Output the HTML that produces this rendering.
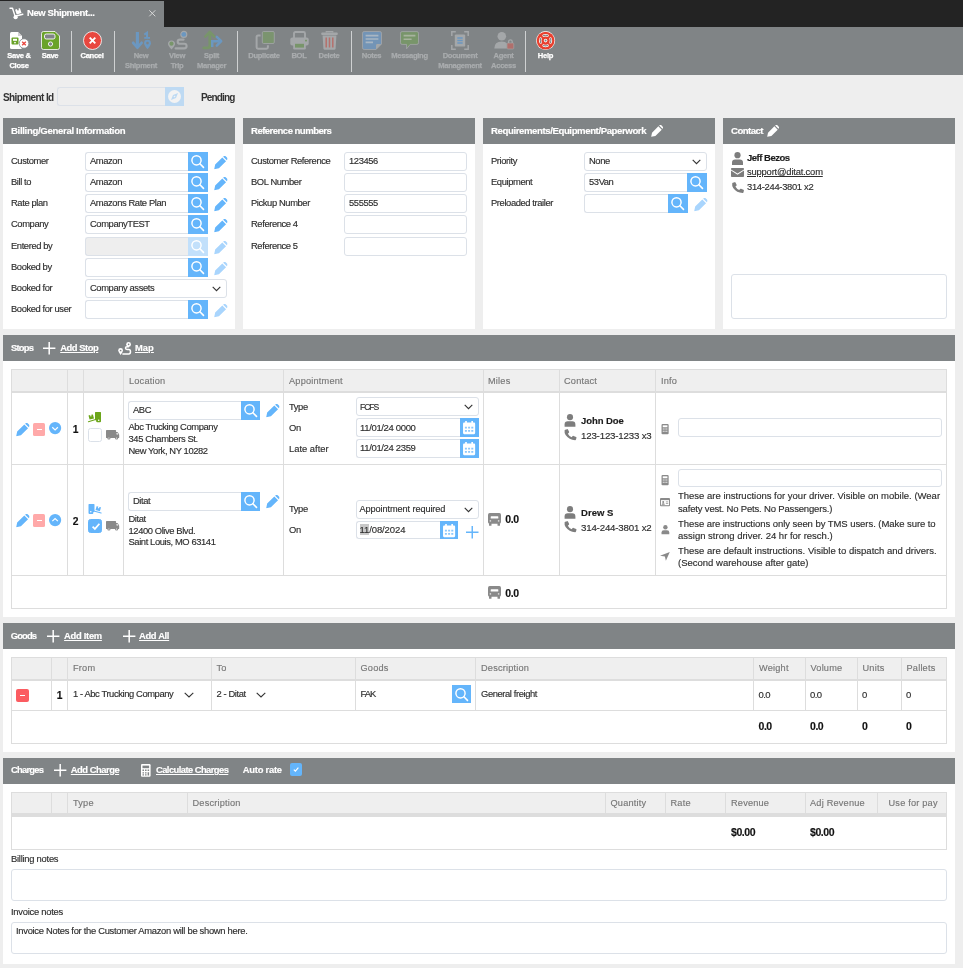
<!DOCTYPE html>
<html lang="en">
<head>
<meta charset="utf-8">
<title>New Shipment</title>
<style>
*{box-sizing:border-box;margin:0;padding:0}
html,body{width:963px;height:968px;overflow:hidden}
body{background:#eee;font-family:"Liberation Sans",sans-serif;font-size:9.4px;letter-spacing:-.4px;color:#2e2e2e;position:relative;-webkit-text-stroke:.15px}
.abs{position:absolute}
svg{display:block;position:absolute;overflow:visible}
/* tab bar */
#tabbar{position:absolute;left:0;top:0;width:963px;height:27px;background:#232323}
#tab{position:absolute;left:0;top:1px;width:164px;height:27px;background:#808486;color:#fff;font-weight:700;font-size:9.5px;letter-spacing:-.4px}
#tab span{position:absolute;left:27px;top:5.5px;white-space:nowrap}
#tab .x{left:147.5px;top:3.5px;font-weight:400;font-size:14px;color:#e4e4e4}
/* toolbar */
#toolbar{position:absolute;left:0;top:27px;width:963px;height:48px;background:#808486}
.tb{position:absolute;top:0;height:48px;color:#fff;font-weight:700;font-size:7.6px;letter-spacing:-.3px;text-align:center;line-height:10px;white-space:nowrap}
.tb b{position:absolute;left:50%;top:24px;transform:translateX(-50%);font-weight:700;-webkit-text-stroke:.25px currentColor}
.tb.dis{color:#a9acae}
.sep{position:absolute;top:4px;width:1px;height:41px;background:#cfd1d2}
/* panels */
.panel{position:absolute;background:#fff}
.ph{position:absolute;left:0;top:0;right:0;height:26px;background:#808486;color:#fff;font-weight:700;font-size:9.6px;letter-spacing:-.55px;line-height:26px;padding-left:8px;white-space:nowrap}
.lbl{position:absolute;white-space:nowrap;line-height:12px}
.inp{position:absolute;height:19px;border:1px solid #dce1e8;border-radius:3px;background:#fff;line-height:16px;padding-left:4px;white-space:nowrap;overflow:hidden}
.inp.l{border-radius:3px 0 0 3px;border-right:0}
.inp.dis{background:#eee}
.sb{position:absolute;width:20px;height:19px;background:#64b5fb}
.sb.dis{background:#c2e0fb}
.hdrlink{text-decoration:underline}
table{border-collapse:collapse}

.t{position:absolute;line-height:12px;white-space:nowrap}
.b{font-weight:700;color:#1c1c1c}
.u{text-decoration:underline}
.hl{position:absolute;height:1px;background:#ddd}
.vl{position:absolute;width:1px;background:#ddd}
.th{position:absolute;background:#efefef}
.thd{color:#777;font-size:9.2px;letter-spacing:.2px;margin-top:.6px}
.sel{position:absolute;height:19px;border:1px solid #dce1e8;border-radius:3px;background:#fff;line-height:16px;padding-left:4px;white-space:nowrap;overflow:hidden}
.ta{position:absolute;border:1px solid #dce1e8;border-radius:3px;background:#fff}
.cb{position:absolute;width:14px;height:14px;border:1px solid #dbe1e9;border-radius:2.5px;background:#fff}
.cb.on{background:#64b5fb;border-color:#64b5fb}
.sh{position:absolute;left:3px;width:952px;height:26px;background:#808486;color:#fff;font-weight:700;font-size:9.4px;letter-spacing:-.33px}
.sh .t{line-height:26px;top:0}
#stopsh .t{line-height:25px}
#chargesh .t{line-height:24px}
</style>
</head>
<body>
<svg width="0" height="0" style="position:absolute">
<defs>
<symbol id="mag" viewBox="0 0 20 19"><circle cx="8.5" cy="8.3" r="4.6" fill="none" stroke="#fff" stroke-width="1.45"/><path d="M11.9 11.7 15.5 15.4" stroke="#fff" stroke-width="1.6" stroke-linecap="round"/></symbol>
<symbol id="pen" viewBox="0 0 14 14"><path d="M0.2 13.8 1.2 8.9 8.6 1.5 12.5 5.4 5.1 12.8Z M9.5 .7 10.3 .1Q11.2 -.5 12.1 .3L13.7 1.9Q14.5 2.8 13.9 3.7L13.3 4.5Z"/></symbol>
</defs>
</svg>

<div id="tabbar"></div>
<div id="tab"><svg style="left:0;top:-1px" width="27" height="27" viewBox="0 0 27 27"><path d="M10 8.2H12.5L14.9 15.6" fill="none" stroke="#fff" stroke-width="1.4" stroke-linecap="round" stroke-linejoin="round"/><circle cx="15.6" cy="17.2" r="2.1" fill="#fff"/><path d="M16 16 22.8 14.3" stroke="#fff" stroke-width="1.5" stroke-linecap="round"/><path d="M15.1 9.7 16.9 9.1 17.5 10.6 18.9 10.2 18.5 8.6 20 8.2 21.5 12.9 16.7 14.4Z" fill="#fff"/></svg><span>New Shipment...</span><svg style="left:148.6px;top:8.8px" width="6.6" height="6.6" viewBox="0 0 6.6 6.6"><path d="M.3 .3 6.3 6.3M6.3 .3 .3 6.3" stroke="#dadada" stroke-width=".95"/></svg></div>
<div id="toolbar">
<div class="tb" style="left:0;width:38px"><svg style="left:9px;top:4px" width="21" height="20" viewBox="0 0 21 20"><path d="M1 2.5Q1 1 2.5 1H9L13 5V16.5Q13 18 11.5 18H2.5Q1 18 1 16.5Z" fill="#fff"/><path d="M9 1V5H13Z" fill="#d0d0d0"/><rect x="2.5" y="6.5" width="7" height="7" rx="1" fill="#6aa329"/><rect x="4" y="7.8" width="4" height="2" fill="#fff"/><circle cx="6" cy="11.6" r=".9" fill="#fff"/><circle cx="15" cy="12.5" r="4.8" fill="#fff" stroke="#808486" stroke-width=".8"/><path d="M13.2 10.7 16.8 14.3M16.8 10.7 13.2 14.3" stroke="#e8473f" stroke-width="1.3"/></svg><b>Save &amp;<br>Close</b></div>
<div class="tb" style="left:31px;width:38px"><svg style="left:10px;top:4px" width="19" height="19" viewBox="0 0 19 19"><path d="M.5 2.5Q.5 .5 2.5 .5H14L18.5 5V16.5Q18.5 18.5 16.5 18.5H2.5Q.5 18.5 .5 16.5Z" fill="#6aa329" stroke="#fff" stroke-width=".8"/><rect x="3.5" y="3" width="10.5" height="5" rx="1.8" fill="#808486" stroke="#fff" stroke-width=".9"/><circle cx="9.5" cy="13" r="2.1" fill="#808486" stroke="#fff" stroke-width=".9"/></svg><b>Save</b></div>
<div class="sep" style="left:71px"></div>
<div class="tb" style="left:73px;width:38px"><svg style="left:10px;top:4px" width="19" height="19" viewBox="0 0 19 19"><circle cx="9.5" cy="9.5" r="9" fill="#e8473f" stroke="#fff" stroke-width=".8"/><path d="M6.7 6.7 12.3 12.3M12.3 6.7 6.7 12.3" stroke="#fff" stroke-width="1.9"/></svg><b>Cancel</b></div>
<div class="sep" style="left:114px"></div>
<div class="tb dis" style="left:121px;width:40px"><svg style="left:11px;top:4px" width="20" height="19" viewBox="0 0 20 19"><path d="M5.4 1V15" fill="none" stroke="#6b97c0" stroke-width="3.1"/><path d="M1.2 11.8 5.4 16.7 9.6 11.8" fill="none" stroke="#6b97c0" stroke-width="2.7" stroke-linejoin="round" stroke-linecap="round"/><path d="M12.3 3.6 15 1.7V6.6" fill="none" stroke="#6b97c0" stroke-width="2"/><path d="M12.2 6.9H18" stroke="#6b97c0" stroke-width="1.8"/><path d="M15.5 18.3Q12.1 14.2 12.1 12.2A3.4 3.4 0 0 1 18.9 12.2Q18.9 14.2 15.5 18.3Z" fill="#6b97c0"/><circle cx="15.5" cy="12.1" r="1.3" fill="#808486"/></svg><b>New<br>Shipment</b></div>
<div class="tb dis" style="left:157px;width:40px"><svg style="left:11px;top:4px" width="20" height="19" viewBox="0 0 20 19"><circle cx="15.8" cy="3.4" r="3" fill="#6b97c0" stroke="#a4a7a9" stroke-width="1.1"/><path d="M3.5 18.4Q0 14.4 0 12.9A3.5 3.5 0 0 1 7 12.9Q7 14.4 3.5 18.4Z" fill="#a4a7a9"/><circle cx="3.5" cy="12.7" r="2.1" fill="#78956a"/><path d="M7.6 17.4H16.2Q18.6 17.4 18.6 15.1Q18.6 12.8 16.2 12.8H12Q9.7 12.8 9.7 10.7Q9.7 8.6 12 8.6H15.6" fill="none" stroke="#a4a7a9" stroke-width="2.1" stroke-linecap="round"/></svg><b>View<br>Trip</b></div>
<div class="tb dis" style="left:191px;width:41px"><svg style="left:11.5px;top:4px" width="20" height="19" viewBox="0 0 20 19"><path d="M.8 16.9H4.4Q6.8 16.9 6.8 14.5V2.5" fill="none" stroke="#78956a" stroke-width="2.8" stroke-linecap="round"/><path d="M2.3 5.6 6.8 1 11.3 5.6" fill="none" stroke="#78956a" stroke-width="2.6" stroke-linejoin="round" stroke-linecap="round"/><path d="M9.2 16V10.2H16.5" fill="none" stroke="#6b97c0" stroke-width="2.5"/><path d="M13.8 5.8 18.2 10.2 13.8 14.6" fill="none" stroke="#6b97c0" stroke-width="2.5" stroke-linejoin="round" stroke-linecap="round"/></svg><b>Split<br>Manager</b></div>
<div class="sep" style="left:237px"></div>
<div class="tb dis" style="left:244px;width:40px"><svg style="left:10.5px;top:4px" width="20" height="19" viewBox="0 0 20 19"><rect x="7.3" y=".5" width="12" height="12" rx="1.3" fill="#7b946f" stroke="#a4a7a9" stroke-width=".8"/><path d="M5.6 4.5H3Q1.6 4.5 1.6 5.9V16.3Q1.6 17.7 3 17.7H11.5Q12.9 17.7 12.9 16.3V14.2" fill="none" stroke="#a4a7a9" stroke-width="2"/></svg><b>Duplicate</b></div>
<div class="tb dis" style="left:279px;width:40px"><svg style="left:11px;top:4px" width="19" height="19" viewBox="0 0 19 19"><path d="M4 7V2.4Q4 1 5.4 1H13.6Q15 1 15 2.4V7" fill="none" stroke="#a4a7a9" stroke-width="1.9"/><rect x=".3" y="6.6" width="18.4" height="8" rx="2" fill="#a4a7a9"/><rect x="15" y="8.8" width="2" height="1.6" fill="#78956a"/><rect x="3.2" y="12" width="12.6" height="6.4" rx="1.2" fill="#a4a7a9"/><rect x="5" y="12.8" width="9" height="3.8" fill="#78956a"/></svg><b>BOL</b></div>
<div class="tb dis" style="left:309px;width:40px"><svg style="left:11.5px;top:4px" width="17" height="19" viewBox="0 0 17 19"><path d="M5.3 1.6V.6H11.7V1.6" fill="none" stroke="#a4a7a9" stroke-width="1.3"/><rect x=".2" y="1.6" width="16.6" height="2.4" rx=".9" fill="#a4a7a9"/><path d="M1.6 4.6H15.4L14.6 17.4Q14.5 18.7 13.2 18.7H3.8Q2.5 18.7 2.4 17.4Z" fill="#a4a7a9"/><path d="M5.2 6.6V16.4M8.5 6.6V16.4M11.8 6.6V16.4" stroke="#b5706c" stroke-width="1.5"/></svg><b>Delete</b></div>
<div class="sep" style="left:351px"></div>
<div class="tb dis" style="left:351px;width:41px"><svg style="left:10.5px;top:4px" width="20" height="19" viewBox="0 0 20 19"><path d="M.5 2.2Q.5 .5 2.2 .5H17.8Q19.5 .5 19.5 2.2V13L14 18.5H2.2Q.5 18.5 .5 16.8Z" fill="#7394b6" stroke="#a4a7a9" stroke-width=".8"/><path d="M19.5 13H15.4Q14 13 14 14.4V18.5Z" fill="#a4a7a9"/><path d="M3.6 4.6H16.4M3.6 8H16.4M3.6 11.4H11" stroke="#a9b6c3" stroke-width="1.6"/></svg><b>Notes</b></div>
<div class="tb dis" style="left:389px;width:41px"><svg style="left:11px;top:4px" width="19" height="19" viewBox="0 0 19 19"><path d="M.5 2.2Q.5 .6 2.1 .6H16.9Q18.5 .6 18.5 2.2V11.8Q18.5 13.4 16.9 13.4H10.2L6.6 17.8V13.4H2.1Q.5 13.4 .5 11.8Z" fill="#78956a" stroke="#a4a7a9" stroke-width=".8"/><path d="M3.6 4.6H15.4M3.6 8.2H11.6" stroke="#a7b39e" stroke-width="1.6"/></svg><b>Messaging</b></div>
<div class="tb dis" style="left:430px;width:60px"><svg style="left:21px;top:4px" width="18" height="19" viewBox="0 0 18 19"><path d="M.8 5V.8H4.8M13.2 .8H17.2V5M17.2 14V18.2H13.2M4.8 18.2H.8V14" fill="none" stroke="#a4a7a9" stroke-width="1.5"/><rect x="3.8" y="3.4" width="10.4" height="12.2" rx="1.2" fill="#a4a7a9"/><path d="M6.3 7H11.7M6.3 9.5H11.7M6.3 12H11.7" stroke="#6b97c0" stroke-width="1.4"/></svg><b>Document<br>Management</b></div>
<div class="tb dis" style="left:483px;width:41px"><svg style="left:10.5px;top:4px" width="20" height="19" viewBox="0 0 20 19"><circle cx="7.8" cy="5.2" r="4.3" fill="#a4a7a9"/><path d="M.3 17.6Q.3 10.6 7.8 10.6Q11.4 10.6 12.8 12.2V17.6Z" fill="#a4a7a9"/><rect x="13" y="12" width="6.8" height="6" rx=".9" fill="#b06f6c" stroke="#a4a7a9" stroke-width=".6"/><path d="M14.6 12V10.6A1.8 1.8 0 0 1 18.2 10.6V12" fill="none" stroke="#a4a7a9" stroke-width="1.3"/></svg><b>Agent<br>Access</b></div>
<div class="sep" style="left:525px"></div>
<div class="tb" style="left:525px;width:41px"><svg style="left:11px;top:3.8px" width="19.2" height="19.2" viewBox="-9.6 -9.6 19.2 19.2"><circle r="9.5" fill="#fff"/><circle r="8.9" fill="#e8402f"/><path d="M-2 -4.96A5.35 5.35 0 0 1 2 -4.96" transform="rotate(0)" stroke="#fff" stroke-width="2.4" stroke-linecap="round" fill="none"/><path d="M-2 -4.96A5.35 5.35 0 0 1 2 -4.96" transform="rotate(90)" stroke="#fff" stroke-width="2.4" stroke-linecap="round" fill="none"/><path d="M-2 -4.96A5.35 5.35 0 0 1 2 -4.96" transform="rotate(180)" stroke="#fff" stroke-width="2.4" stroke-linecap="round" fill="none"/><path d="M-2 -4.96A5.35 5.35 0 0 1 2 -4.96" transform="rotate(270)" stroke="#fff" stroke-width="2.4" stroke-linecap="round" fill="none"/><path d="M-2 -4.96A5.35 5.35 0 0 1 2 -4.96" transform="rotate(0)" stroke="#808486" stroke-width="1.2" stroke-linecap="round" fill="none"/><path d="M-2 -4.96A5.35 5.35 0 0 1 2 -4.96" transform="rotate(90)" stroke="#808486" stroke-width="1.2" stroke-linecap="round" fill="none"/><path d="M-2 -4.96A5.35 5.35 0 0 1 2 -4.96" transform="rotate(180)" stroke="#808486" stroke-width="1.2" stroke-linecap="round" fill="none"/><path d="M-2 -4.96A5.35 5.35 0 0 1 2 -4.96" transform="rotate(270)" stroke="#808486" stroke-width="1.2" stroke-linecap="round" fill="none"/><circle r="1.8" fill="#fff"/><circle r="1" fill="#808486"/></svg><b>Help</b></div>
</div>

<div class="t b" style="left:3px;top:92px;font-size:10px;letter-spacing:-.6px;-webkit-text-stroke:0;color:#333">Shipment Id</div>
<div class="inp l dis" style="left:57px;top:87px;width:108px;height:19px;background:#eee"></div>
<div class="sb dis" style="left:165px;top:87px;width:19px;background:#bedaf3"><svg style="left:3px;top:3px" width="13" height="13" viewBox="0 0 13 13"><circle cx="6.5" cy="6.5" r="6.5" fill="#f3f3f3"/><path d="M10 3 8 8 3 10 5 5Z" fill="#bedaf3"/><circle cx="6.5" cy="6.5" r=".8" fill="#f3f3f3"/></svg></div>
<div class="t b" style="left:201px;top:92px;font-size:10px;letter-spacing:-.85px;-webkit-text-stroke:0;color:#333">Pending</div>
<div class="panel" style="left:3px;top:118px;width:232px;height:211px"><div class="ph" style="letter-spacing:-.33px">Billing/General Information</div></div>
<div class="t" style="left:11px;top:155px">Customer</div>
<div class="inp l" style="left:85px;top:152px;width:103px">Amazon</div>
<div class="sb " style="left:188px;top:152px"><svg width="20" height="19"><use href="#mag"/></svg></div>
<svg style="left:214px;top:155.5px" width="13.5" height="13.5" fill="#64b5fb"><use href="#pen"/></svg>
<div class="t" style="left:11px;top:176px">Bill to</div>
<div class="inp l" style="left:85px;top:173px;width:103px">Amazon</div>
<div class="sb " style="left:188px;top:173px"><svg width="20" height="19"><use href="#mag"/></svg></div>
<svg style="left:214px;top:176.5px" width="13.5" height="13.5" fill="#64b5fb"><use href="#pen"/></svg>
<div class="t" style="left:11px;top:197px">Rate plan</div>
<div class="inp l" style="left:85px;top:194px;width:103px">Amazons Rate Plan</div>
<div class="sb " style="left:188px;top:194px"><svg width="20" height="19"><use href="#mag"/></svg></div>
<svg style="left:214px;top:197.5px" width="13.5" height="13.5" fill="#64b5fb"><use href="#pen"/></svg>
<div class="t" style="left:11px;top:218px">Company</div>
<div class="inp l" style="left:85px;top:215px;width:103px">CompanyTEST</div>
<div class="sb " style="left:188px;top:215px"><svg width="20" height="19"><use href="#mag"/></svg></div>
<svg style="left:214px;top:218.5px" width="13.5" height="13.5" fill="#64b5fb"><use href="#pen"/></svg>
<div class="t" style="left:11px;top:240px">Entered by</div>
<div class="inp l dis" style="left:85px;top:237px;width:103px"></div>
<div class="sb dis" style="left:188px;top:237px"><svg width="20" height="19"><use href="#mag"/></svg></div>
<svg style="left:214px;top:240.5px" width="13.5" height="13.5" fill="#a9d5fd"><use href="#pen"/></svg>
<div class="t" style="left:11px;top:261px">Booked by</div>
<div class="inp l" style="left:85px;top:258px;width:103px"></div>
<div class="sb " style="left:188px;top:258px"><svg width="20" height="19"><use href="#mag"/></svg></div>
<svg style="left:214px;top:261.5px" width="13.5" height="13.5" fill="#a9d5fd"><use href="#pen"/></svg>
<div class="t" style="left:11px;top:282px">Booked for</div>
<div class="sel" style="left:85px;top:279px;width:142px">Company assets<svg style="right:5px;top:6px" width="9" height="6" viewBox="0 0 9 6"><path d="M.7 .8 4.5 4.6 8.3 .8" fill="none" stroke="#333" stroke-width="1.1"/></svg></div>
<div class="t" style="left:11px;top:303px">Booked for user</div>
<div class="inp l" style="left:85px;top:300px;width:103px"></div>
<div class="sb " style="left:188px;top:300px"><svg width="20" height="19"><use href="#mag"/></svg></div>
<svg style="left:214px;top:303.5px" width="13.5" height="13.5" fill="#a9d5fd"><use href="#pen"/></svg>
<div class="panel" style="left:243px;top:118px;width:232px;height:211px"><div class="ph">Reference numbers</div></div>
<div class="t" style="left:251px;top:155px">Customer Reference</div>
<div class="inp" style="left:344px;top:152px;width:123px">123456</div>
<div class="t" style="left:251px;top:176px">BOL Number</div>
<div class="inp" style="left:344px;top:173px;width:123px"></div>
<div class="t" style="left:251px;top:197px">Pickup Number</div>
<div class="inp" style="left:344px;top:194px;width:123px">555555</div>
<div class="t" style="left:251px;top:218px">Reference 4</div>
<div class="inp" style="left:344px;top:215px;width:123px"></div>
<div class="t" style="left:251px;top:240px">Reference 5</div>
<div class="inp" style="left:344px;top:237px;width:123px"></div>
<div class="panel" style="left:483px;top:118px;width:232px;height:211px"><div class="ph" style="letter-spacing:-.4px">Requirements/Equipment/Paperwork</div></div>
<svg style="left:650.5px;top:124.5px" width="12" height="12" fill="#fff"><use href="#pen"/></svg>
<div class="t" style="left:491px;top:155px">Priority</div>
<div class="sel" style="left:584px;top:152px;width:123px">None<svg style="right:5px;top:6px" width="9" height="6" viewBox="0 0 9 6"><path d="M.7 .8 4.5 4.6 8.3 .8" fill="none" stroke="#333" stroke-width="1.1"/></svg></div>
<div class="t" style="left:491px;top:176px">Equipment</div>
<div class="inp l" style="left:584px;top:173px;width:103px">53Van</div>
<div class="sb " style="left:687px;top:173px"><svg width="20" height="19"><use href="#mag"/></svg></div>
<div class="t" style="left:491px;top:197px">Preloaded trailer</div>
<div class="inp l" style="left:584px;top:194px;width:84px"></div>
<div class="sb " style="left:668px;top:194px"><svg width="20" height="19"><use href="#mag"/></svg></div>
<svg style="left:694px;top:197.5px" width="13.5" height="13.5" fill="#a9d5fd"><use href="#pen"/></svg>
<div class="panel" style="left:723px;top:118px;width:232px;height:211px"><div class="ph">Contact</div></div>
<svg style="left:767px;top:124.5px" width="12" height="12" fill="#fff"><use href="#pen"/></svg>
<svg style="left:732px;top:152px" width="11" height="13" viewBox="0 0 11 13" fill="#7d7d7d"><circle cx="5.5" cy="3.2" r="3.1"/><path d="M0 13V10.6Q0 7.4 3.2 7.4H7.8Q11 7.4 11 10.6V13Z"/></svg>
<div class="t b" style="left:747px;top:152px;font-size:9.5px;letter-spacing:-.5px">Jeff Bezos</div>
<svg style="left:731px;top:168px" width="13" height="9" viewBox="0 0 13 9" fill="#7d7d7d"><path d="M0 .8Q0 0 .8 0H12.2Q13 0 13 .8V1.4L6.5 5.6 0 1.4Z"/><path d="M0 2.6 6.5 6.8 13 2.6V8.2Q13 9 12.2 9H.8Q0 9 0 8.2Z"/></svg>
<div class="t u" style="left:747px;top:166px;letter-spacing:-.18px">support@ditat.com</div>
<svg style="left:731.5px;top:181.5px" width="12" height="11" viewBox="0 0 12 11" fill="#7d7d7d"><path d="M2.6 .2Q3.2 -.1 3.5 .5L4.6 2.8Q4.8 3.3 4.4 3.7L3.4 4.6Q4.6 7 7.2 8L8.1 7Q8.5 6.6 9 6.8L11.5 7.8Q12.1 8.1 11.9 8.7L11.4 10.4Q11.2 11 10.6 11Q4.6 10.8 1.2 6Q-.2 3.6 .2 1.4Q.3 .9 .8 .7Z"/></svg>
<div class="t" style="left:747px;top:181px;letter-spacing:-.3px">314-244-3801 x2</div>
<div class="ta" style="left:731px;top:274px;width:216px;height:45px"></div>
<div class="panel" style="left:3px;top:335px;width:952px;height:282px"></div>
<div class="sh" style="top:335px;line-height:25px" id="stopsh"><div class="t" style="left:8px;letter-spacing:-.76px">Stops</div><div class="t u" style="left:57.2px;letter-spacing:-.45px">Add Stop</div><div class="t u" style="left:132px;letter-spacing:.05px">Map</div><svg style="left:40.2px;top:6.8px" width="12.4" height="12.4" viewBox="0 0 12 12"><path d="M6 0V12M0 6H12" stroke="#fff" stroke-width="1.45"/></svg><svg style="left:114.8px;top:7.2px" width="13.2" height="13" viewBox="0 0 13.2 13"><circle cx="10.6" cy="2.4" r="2.4" fill="#fff"/><circle cx="10.6" cy="2.4" r=".8" fill="#808486"/><path d="M2.6 12.9Q.2 10 .2 8.5A2.4 2.4 0 0 1 5 8.5Q5 10 2.6 12.9Z" fill="#fff"/><circle cx="2.6" cy="8.5" r=".85" fill="#808486"/><path d="M10.6 4.8H9Q7.5 4.8 7.5 6.1Q7.5 7.5 9 7.5H10.8Q12.5 7.5 12.5 9.7Q12.5 11.9 10.8 11.9H4.9" fill="none" stroke="#fff" stroke-width="1.5" stroke-linecap="round"/></svg></div>
<div class="th" style="left:11px;top:369px;width:936px;height:23px"></div>
<div class="hl" style="left:11px;top:369px;width:936px"></div>
<div class="hl" style="left:11px;top:391px;width:936px;height:2px"></div>
<div class="hl" style="left:11px;top:464px;width:936px"></div>
<div class="hl" style="left:11px;top:575px;width:936px"></div>
<div class="hl" style="left:11px;top:608px;width:936px"></div>
<div class="vl" style="left:11px;top:369px;height:240px"></div>
<div class="vl" style="left:946px;top:369px;height:240px"></div>
<div class="vl" style="left:67px;top:369px;height:206px"></div>
<div class="vl" style="left:83px;top:369px;height:206px"></div>
<div class="vl" style="left:123px;top:369px;height:206px"></div>
<div class="vl" style="left:283px;top:369px;height:206px"></div>
<div class="vl" style="left:483px;top:369px;height:206px"></div>
<div class="vl" style="left:559px;top:369px;height:206px"></div>
<div class="vl" style="left:655px;top:369px;height:206px"></div>
<div class="t thd" style="left:129px;top:374px">Location</div>
<div class="t thd" style="left:289px;top:374px">Appointment</div>
<div class="t thd" style="left:488px;top:374px">Miles</div>
<div class="t thd" style="left:564px;top:374px">Contact</div>
<div class="t thd" style="left:661px;top:374px">Info</div>
<svg style="left:16px;top:423px" width="13.5" height="13.5" fill="#64b5fb"><use href="#pen"/></svg>
<div class="abs" style="left:33px;top:423px;width:12px;height:13px;background:#ffa9a9;border-radius:1.5px"><div class="abs" style="left:3.5px;top:6px;width:5px;height:1.3px;background:#fff"></div></div>
<svg style="left:48.9px;top:422.4px" width="12.2" height="12.2" viewBox="0 0 12.5 12.5"><circle cx="6.25" cy="6.25" r="6.25" fill="#64b5fb"/><path d="M3.4 5.4 6.25 8.1 9.1 5.4" fill="none" stroke="#fff" stroke-width="1.2"/></svg>
<div class="t b" style="left:72.8px;top:423.6px;font-size:10.3px;color:#111">1</div>
<svg style="left:88px;top:412px" width="13.5" height="10.5" viewBox="0 0 13.5 10.5" fill="#6ba51a"><path d="M7 .6Q7 0 7.6 0H12.4Q13 0 13 .6V9.2Q13 10.2 12 10.2H9.2Q8.2 10.2 8.2 9.2V8.4L7 8Z"/><circle cx="10.7" cy="8.2" r=".8" fill="#fff"/><path d="M.4 9.7 7.6 7.5" stroke="#6ba51a" stroke-width="1.1" stroke-linecap="round"/><path d="M.5 3.5 2.1 3.1 2.5 4.6 3.6 4.3 3.2 2.8 4.9 2.4 6 6.4 1.6 7.6Z"/></svg>
<div class="cb" style="left:88px;top:428px"></div>
<svg style="left:106px;top:430px" width="13.2" height="9.6" viewBox="0 0 13.2 9.6" fill="#8a8a8a"><path d="M0 .7Q0 0 .7 0H9.4Q10.1 0 10.1 .7V2H11.2Q11.7 2 12 2.4L13 4.2Q13.2 4.6 13.2 5V7.4Q13.2 8 12.6 8H.6Q0 8 0 7.4Z"/><circle cx="2.9" cy="8" r="1.6"/><circle cx="2.9" cy="8" r=".6" fill="#fff"/><circle cx="10.6" cy="8" r="1.6"/><circle cx="10.6" cy="8" r=".6" fill="#fff"/><path d="M10.6 2.9H11.4L12.3 4.6H10.6Z" fill="#fff"/></svg>
<div class="inp l" style="left:128px;top:401px;width:113px">ABC</div>
<div class="sb " style="left:241px;top:401px;width:19px"><svg width="20" height="19"><use href="#mag"/></svg></div>
<svg style="left:266px;top:404px" width="13.5" height="13.5" fill="#64b5fb"><use href="#pen"/></svg>
<div class="t" style="left:128.5px;top:421px">Abc Trucking Company</div>
<div class="t" style="left:128.5px;top:433px">345 Chambers St.</div>
<div class="t" style="left:128.5px;top:445px">New York, NY 10282</div>
<div class="t" style="left:289px;top:401px">Type</div>
<div class="t" style="left:289px;top:422px">On</div>
<div class="t" style="left:289px;top:443px;letter-spacing:0">Late after</div>
<div class="sel" style="left:356px;top:397px;width:123px;height:19px;line-height:16px;padding-left:3px;font-size:8.6px;letter-spacing:-1.1px;line-height:18px">FCFS<svg style="right:5px;top:6px" width="9" height="6" viewBox="0 0 9 6"><path d="M.7 .8 4.5 4.6 8.3 .8" fill="none" stroke="#333" stroke-width="1.1"/></svg></div>
<div class="inp l" style="left:356px;top:418px;width:104px;height:19px;line-height:17px;padding-left:3px;font-size:9.5px;letter-spacing:-.35px">11/01/24 0000</div>
<div class="sb" style="left:460px;top:418px;width:19px;height:19px"><svg style="left:3.4px;top:2.6px" width="12.2" height="13.2" viewBox="0 0 11 12"><path d="M0 2.4Q0 1.4 1 1.4H10Q11 1.4 11 2.4V11Q11 12 10 12H1Q0 12 0 11Z" fill="#fff"/><path d="M2.7 0V2.4M8.3 0V2.4" stroke="#fff" stroke-width="1.5"/><path d="M1.7 5.3H3.5V6.9H1.7ZM4.6 5.3H6.4V6.9H4.6ZM7.5 5.3H9.3V6.9H7.5ZM1.7 8.2H3.5V9.8H1.7ZM4.6 8.2H6.4V9.8H4.6ZM7.5 8.2H9.3V9.8H7.5Z" fill="#8cc8fc"/></svg></div>
<div class="inp l" style="left:356px;top:439px;width:104px;height:19px;line-height:16px;padding-left:3px;font-size:9.5px;letter-spacing:-.35px">11/01/24 2359</div>
<div class="sb" style="left:460px;top:439px;width:19px;height:19px"><svg style="left:3.4px;top:2.6px" width="12.2" height="13.2" viewBox="0 0 11 12"><path d="M0 2.4Q0 1.4 1 1.4H10Q11 1.4 11 2.4V11Q11 12 10 12H1Q0 12 0 11Z" fill="#fff"/><path d="M2.7 0V2.4M8.3 0V2.4" stroke="#fff" stroke-width="1.5"/><path d="M1.7 5.3H3.5V6.9H1.7ZM4.6 5.3H6.4V6.9H4.6ZM7.5 5.3H9.3V6.9H7.5ZM1.7 8.2H3.5V9.8H1.7ZM4.6 8.2H6.4V9.8H4.6ZM7.5 8.2H9.3V9.8H7.5Z" fill="#8cc8fc"/></svg></div>
<svg style="left:564.4px;top:414px" width="12" height="12.8" viewBox="0 0 11 13" fill="#7d7d7d"><circle cx="5.5" cy="3.2" r="3.1"/><path d="M0 13V10.6Q0 7.4 3.2 7.4H7.8Q11 7.4 11 10.6V13Z"/></svg>
<div class="t b" style="left:581px;top:415px;font-size:9.5px;letter-spacing:-.08px">John Doe</div>
<svg style="left:564px;top:429.4px" width="13" height="11.2" viewBox="0 0 12 11" fill="#7d7d7d"><path d="M2.6 .2Q3.2 -.1 3.5 .5L4.6 2.8Q4.8 3.3 4.4 3.7L3.4 4.6Q4.6 7 7.2 8L8.1 7Q8.5 6.6 9 6.8L11.5 7.8Q12.1 8.1 11.9 8.7L11.4 10.4Q11.2 11 10.6 11Q4.6 10.8 1.2 6Q-.2 3.6 .2 1.4Q.3 .9 .8 .7Z"/></svg>
<div class="t" style="left:581px;top:430px;font-size:9.7px;letter-spacing:-.18px">123-123-1233 x3</div>
<svg style="left:660.7px;top:423.9px" width="8.2" height="10.2" viewBox="0 0 7 10"><rect width="7" height="10" rx="1" fill="#8a8a8a"/><rect x="1.2" y="1.3" width="4.6" height="1.9" fill="#fff"/><path d="M1.2 4.4H2.6V5.5H1.2ZM4.4 4.4H5.8V5.5H4.4ZM1.2 6.6H2.6V7.7H1.2ZM4.4 6.6H5.8V7.7H4.4ZM2.9 4.4H4.1V5.5H2.9ZM2.9 6.6H4.1V7.7H2.9Z" fill="#e6e6e6"/></svg>
<div class="inp" style="left:678px;top:418px;width:264px;height:19px"></div>
<svg style="left:16px;top:514px" width="13.5" height="13.5" fill="#64b5fb"><use href="#pen"/></svg>
<div class="abs" style="left:33px;top:514px;width:12px;height:13px;background:#ffa9a9;border-radius:1.5px"><div class="abs" style="left:3.5px;top:6px;width:5px;height:1.3px;background:#fff"></div></div>
<svg style="left:48.9px;top:514px" width="12.2" height="12.2" viewBox="0 0 12.5 12.5"><circle cx="6.25" cy="6.25" r="6.25" fill="#64b5fb"/><path d="M3.4 7.3 6.25 4.6 9.1 7.3" fill="none" stroke="#fff" stroke-width="1.2"/></svg>
<div class="t b" style="left:72.8px;top:515.6px;font-size:10.3px;color:#111">2</div>
<svg style="left:88px;top:504px" width="13.5" height="10.5" viewBox="0 0 13.5 10.5" fill="#64b5fb"><path d="M6.5 .6Q6.5 0 5.9 0H1.1Q.5 0 .5 .6V9Q.5 10 1.5 10H4.3Q5.3 10 5.3 9V8.2L6.5 7.6Z"/><circle cx="2.8" cy="7.7" r=".8" fill="#fff"/><path d="M13.1 9 5.9 7" stroke="#64b5fb" stroke-width="1.1" stroke-linecap="round"/><path d="M13 3.3 11.4 2.9 11 4.4 9.9 4.1 10.3 2.6 8.6 2.2 7.5 6.1 11.9 7.3Z"/></svg>
<div class="cb on" style="left:88px;top:519px"><svg style="left:2.6px;top:2.8px" width="8" height="7" viewBox="0 0 8 7"><path d="M.6 3.6 2.9 5.9 7.4 .8" fill="none" stroke="#fff" stroke-width="1.7"/></svg></div>
<svg style="left:106px;top:521px" width="13.2" height="9.6" viewBox="0 0 13.2 9.6" fill="#8a8a8a"><path d="M0 .7Q0 0 .7 0H9.4Q10.1 0 10.1 .7V2H11.2Q11.7 2 12 2.4L13 4.2Q13.2 4.6 13.2 5V7.4Q13.2 8 12.6 8H.6Q0 8 0 7.4Z"/><circle cx="2.9" cy="8" r="1.6"/><circle cx="2.9" cy="8" r=".6" fill="#fff"/><circle cx="10.6" cy="8" r="1.6"/><circle cx="10.6" cy="8" r=".6" fill="#fff"/><path d="M10.6 2.9H11.4L12.3 4.6H10.6Z" fill="#fff"/></svg>
<div class="inp l" style="left:128px;top:492px;width:113px">Ditat</div>
<div class="sb " style="left:241px;top:492px;width:19px"><svg width="20" height="19"><use href="#mag"/></svg></div>
<svg style="left:266px;top:495px" width="13.5" height="13.5" fill="#64b5fb"><use href="#pen"/></svg>
<div class="t" style="left:128.5px;top:513px">Ditat</div>
<div class="t" style="left:128.5px;top:525px">12400 Olive Blvd.</div>
<div class="t" style="left:128.5px;top:536px">Saint Louis, MO 63141</div>
<div class="t" style="left:289px;top:503px">Type</div>
<div class="t" style="left:289px;top:524px">On</div>
<div class="sel" style="left:356px;top:500px;width:123px;height:19px;line-height:16px;padding-left:2.5px;font-size:9.2px;letter-spacing:-.1px">Appointment required<svg style="right:5px;top:6px" width="9" height="6" viewBox="0 0 9 6"><path d="M.7 .8 4.5 4.6 8.3 .8" fill="none" stroke="#333" stroke-width="1.1"/></svg></div>
<div class="inp l" style="left:356px;top:521px;width:84px;height:18px;line-height:16px;padding-left:2.5px;font-size:9.5px;letter-spacing:-.1px"><span style="background:#c8c8c8">11</span>/08/2024</div>
<div class="sb" style="left:440px;top:521px;width:18px;height:18px"><svg style="left:3.4px;top:2.6px" width="12.2" height="13.2" viewBox="0 0 11 12"><path d="M0 2.4Q0 1.4 1 1.4H10Q11 1.4 11 2.4V11Q11 12 10 12H1Q0 12 0 11Z" fill="#fff"/><path d="M2.7 0V2.4M8.3 0V2.4" stroke="#fff" stroke-width="1.5"/><path d="M1.7 5.3H3.5V6.9H1.7ZM4.6 5.3H6.4V6.9H4.6ZM7.5 5.3H9.3V6.9H7.5ZM1.7 8.2H3.5V9.8H1.7ZM4.6 8.2H6.4V9.8H4.6ZM7.5 8.2H9.3V9.8H7.5Z" fill="#8cc8fc"/></svg></div>
<svg style="left:466px;top:525.5px" width="12.5" height="12.5" viewBox="0 0 12 12"><path d="M6 0V12M0 6H12" stroke="#64b5fb" stroke-width="1.4"/></svg>
<svg style="left:488px;top:513px" width="13" height="12.8" viewBox="0 0 13 12.8" fill="#8a8a8a"><rect width="13" height="10.8" rx="1.7"/><rect x="1" y="10" width="2.5" height="2.8" rx=".5"/><rect x="9.5" y="10" width="2.5" height="2.8" rx=".5"/><rect x="2.7" y="3.3" width="7.6" height="2.3" rx=".4" fill="#fff"/><rect x="1.7" y="7.2" width="1.4" height="1.4" fill="#e4e4e4"/><rect x="9.9" y="7.2" width="1.4" height="1.4" fill="#e4e4e4"/></svg>
<div class="t b" style="left:505.3px;top:513.4px;font-size:10.5px;letter-spacing:-.4px;color:#111">0.0</div>
<svg style="left:564.4px;top:506px" width="12" height="12.8" viewBox="0 0 11 13" fill="#7d7d7d"><circle cx="5.5" cy="3.2" r="3.1"/><path d="M0 13V10.6Q0 7.4 3.2 7.4H7.8Q11 7.4 11 10.6V13Z"/></svg>
<div class="t b" style="left:581px;top:507px;font-size:9.5px;letter-spacing:.05px">Drew S</div>
<svg style="left:564px;top:520.6px" width="13" height="11.2" viewBox="0 0 12 11" fill="#7d7d7d"><path d="M2.6 .2Q3.2 -.1 3.5 .5L4.6 2.8Q4.8 3.3 4.4 3.7L3.4 4.6Q4.6 7 7.2 8L8.1 7Q8.5 6.6 9 6.8L11.5 7.8Q12.1 8.1 11.9 8.7L11.4 10.4Q11.2 11 10.6 11Q4.6 10.8 1.2 6Q-.2 3.6 .2 1.4Q.3 .9 .8 .7Z"/></svg>
<div class="t" style="left:581px;top:521.5px;font-size:9.7px;letter-spacing:-.18px">314-244-3801 x2</div>
<svg style="left:660.7px;top:474.6px" width="8.2" height="10.2" viewBox="0 0 7 10"><rect width="7" height="10" rx="1" fill="#8a8a8a"/><rect x="1.2" y="1.3" width="4.6" height="1.9" fill="#fff"/><path d="M1.2 4.4H2.6V5.5H1.2ZM4.4 4.4H5.8V5.5H4.4ZM1.2 6.6H2.6V7.7H1.2ZM4.4 6.6H5.8V7.7H4.4ZM2.9 4.4H4.1V5.5H2.9ZM2.9 6.6H4.1V7.7H2.9Z" fill="#e6e6e6"/></svg>
<div class="inp" style="left:678px;top:469px;width:264px;height:18px"></div>
<div class="t" style="left:678px;top:489.5px;font-size:9.5px;letter-spacing:0">These are instructions for your driver. Visible on mobile. (Wear</div>
<div class="t" style="left:678px;top:502.5px;font-size:9.5px;letter-spacing:-.17px">safety vest. No Pets. No Passengers.)</div>
<div class="t" style="left:678px;top:518px;font-size:9.5px;letter-spacing:-.06px">These are instructions only seen by TMS users. (Make sure to</div>
<div class="t" style="left:678px;top:530px;font-size:9.5px;letter-spacing:0">assign strong driver. 24 hr for resch.)</div>
<div class="t" style="left:678px;top:545px;font-size:9.5px;letter-spacing:0">These are default instructions. Visible to dispatch and drivers.</div>
<div class="t" style="left:678px;top:557px;font-size:9.5px;letter-spacing:0">(Second warehouse after gate)</div>
<svg style="left:660.2px;top:497.6px" width="10" height="8.2" viewBox="0 0 15 12.3" fill="#8a8a8a"><path d="M0 1.5Q0 0 1.5 0H13.5Q15 0 15 1.5V10.8Q15 12.3 13.5 12.3H1.5Q0 12.3 0 10.8Z"/><rect x="1.4" y="3.2" width="12.2" height="7.6" fill="#fff"/><circle cx="4.8" cy="6" r="1.5"/><path d="M2.4 10Q2.4 7.9 4.8 7.9Q7.2 7.9 7.2 10Z"/><path d="M8.8 5.8H12.4M8.8 8.2H12.4" stroke="#8a8a8a" stroke-width="1.1"/></svg>
<svg style="left:660.8px;top:524.8px" width="8.8" height="9.2" viewBox="0 0 11 13" fill="#8a8a8a"><circle cx="5.5" cy="3.2" r="3.1"/><path d="M0 13V10.6Q0 7.4 3.2 7.4H7.8Q11 7.4 11 10.6V13Z"/></svg>
<svg style="left:660.4px;top:552px" width="9.8" height="8.8" viewBox="0 0 10 9" fill="#8a8a8a"><path d="M10 0 6 9 5 4.6 0 3.8Z"/></svg>
<svg style="left:488px;top:586px" width="13" height="12.8" viewBox="0 0 13 12.8" fill="#8a8a8a"><rect width="13" height="10.8" rx="1.7"/><rect x="1" y="10" width="2.5" height="2.8" rx=".5"/><rect x="9.5" y="10" width="2.5" height="2.8" rx=".5"/><rect x="2.7" y="3.3" width="7.6" height="2.3" rx=".4" fill="#fff"/><rect x="1.7" y="7.2" width="1.4" height="1.4" fill="#e4e4e4"/><rect x="9.9" y="7.2" width="1.4" height="1.4" fill="#e4e4e4"/></svg>
<div class="t b" style="left:505.3px;top:586.6px;font-size:10.5px;letter-spacing:-.4px;color:#111">0.0</div>
<div class="panel" style="left:3px;top:623px;width:952px;height:129px"></div>
<div class="sh" style="top:623px"><div class="t" style="left:7.8px;letter-spacing:-.85px">Goods</div><div class="t u" style="left:61.1px;letter-spacing:-.29px">Add Item</div><div class="t u" style="left:136px;letter-spacing:-.33px">Add All</div><svg style="left:44.2px;top:6.8px" width="12.4" height="12.4" viewBox="0 0 12 12"><path d="M6 0V12M0 6H12" stroke="#fff" stroke-width="1.45"/></svg><svg style="left:120px;top:6.8px" width="12.4" height="12.4" viewBox="0 0 12 12"><path d="M6 0V12M0 6H12" stroke="#fff" stroke-width="1.45"/></svg></div>
<div class="th" style="left:11px;top:657px;width:936px;height:23px"></div>
<div class="hl" style="left:11px;top:657px;width:936px"></div>
<div class="hl" style="left:11px;top:679px;width:936px;height:2px"></div>
<div class="hl" style="left:11px;top:710px;width:936px"></div>
<div class="hl" style="left:11px;top:743px;width:936px"></div>
<div class="vl" style="left:11px;top:657px;height:87px"></div>
<div class="vl" style="left:946px;top:657px;height:87px"></div>
<div class="vl" style="left:51px;top:657px;height:53px"></div>
<div class="vl" style="left:67px;top:657px;height:53px"></div>
<div class="vl" style="left:211px;top:657px;height:53px"></div>
<div class="vl" style="left:355px;top:657px;height:53px"></div>
<div class="vl" style="left:475px;top:657px;height:53px"></div>
<div class="vl" style="left:753px;top:657px;height:53px"></div>
<div class="vl" style="left:805px;top:657px;height:53px"></div>
<div class="vl" style="left:857px;top:657px;height:53px"></div>
<div class="vl" style="left:901px;top:657px;height:53px"></div>
<div class="t thd" style="left:73px;top:661.2px">From</div>
<div class="t thd" style="left:216.5px;top:661.2px">To</div>
<div class="t thd" style="left:360.5px;top:661.2px">Goods</div>
<div class="t thd" style="left:481px;top:661.2px">Description</div>
<div class="t thd" style="left:759px;top:661.2px">Weight</div>
<div class="t thd" style="left:810.5px;top:661.2px">Volume</div>
<div class="t thd" style="left:862.5px;top:661.2px">Units</div>
<div class="t thd" style="left:906.5px;top:661.2px">Pallets</div>
<div class="abs" style="left:16px;top:689.4px;width:12.5px;height:12.5px;background:#fb5c61;border-radius:2px"><div class="abs" style="left:3.5px;top:5.6px;width:5.5px;height:1.4px;background:#fff"></div></div>
<div class="t b" style="left:56.8px;top:690px;font-size:10.3px;color:#111">1</div>
<div class="t" style="left:73px;top:688px">1 - Abc Trucking Company</div><svg style="left:184px;top:692px" width="10" height="6" viewBox="0 0 10 6"><path d="M.7 .8 5 5 9.3 .8" fill="none" stroke="#333" stroke-width="1.1"/></svg>
<div class="t" style="left:216.5px;top:688px">2 - Ditat</div><svg style="left:256px;top:692px" width="10" height="6" viewBox="0 0 10 6"><path d="M.7 .8 5 5 9.3 .8" fill="none" stroke="#333" stroke-width="1.1"/></svg>
<div class="t" style="left:360.5px;top:688px;letter-spacing:-1px">FAK</div>
<div class="sb " style="left:452px;top:685px;width:19px;height:18px"><svg style="left:-.5px;top:-.5px" width="20" height="19"><use href="#mag"/></svg></div>
<div class="t" style="left:481px;top:688px">General freight</div>
<div class="t" style="left:758.5px;top:689px;font-size:9.5px;letter-spacing:-.6px">0.0</div>
<div class="t b" style="left:758.5px;top:720.4px;font-size:10.5px;letter-spacing:-.45px;color:#111">0.0</div>
<div class="t" style="left:810.0px;top:689px;font-size:9.5px;letter-spacing:-.6px">0.0</div>
<div class="t b" style="left:810.0px;top:720.4px;font-size:10.5px;letter-spacing:-.45px;color:#111">0.0</div>
<div class="t" style="left:862.0px;top:689px;font-size:9.5px;letter-spacing:-.6px">0</div>
<div class="t b" style="left:862.0px;top:720.4px;font-size:10.5px;letter-spacing:-.45px;color:#111">0</div>
<div class="t" style="left:906.0px;top:689px;font-size:9.5px;letter-spacing:-.6px">0</div>
<div class="t b" style="left:906.0px;top:720.4px;font-size:10.5px;letter-spacing:-.45px;color:#111">0</div>
<div class="panel" style="left:3px;top:758px;width:952px;height:206px"></div>
<div class="sh" style="top:758px" id="chargesh"><div class="t" style="left:8px;letter-spacing:-.75px">Charges</div><div class="t u" style="left:67.8px;letter-spacing:-.48px">Add Charge</div><div class="t u" style="left:153px;letter-spacing:-.56px">Calculate Charges</div><div class="t" style="left:239.8px;letter-spacing:-.24px">Auto rate</div><svg style="left:51px;top:6px" width="12.4" height="12.4" viewBox="0 0 12 12"><path d="M6 0V12M0 6H12" stroke="#fff" stroke-width="1.45"/></svg><svg style="left:137.6px;top:5.8px" width="9.6" height="12.8" viewBox="0 0 9 11" preserveAspectRatio="none"><rect width="9" height="11" rx="1" fill="#fff"/><rect x="1.4" y="1.4" width="6.2" height="2.2" fill="#808486"/><path d="M1.4 4.8H2.8V6H1.4ZM3.8 4.8H5.2V6H3.8ZM6.2 4.8H7.6V6H6.2ZM1.4 7H2.8V8.2H1.4ZM3.8 7H5.2V8.2H3.8ZM6.2 7H7.6V9.8H6.2ZM1.4 8.8H2.8V9.8H1.4ZM3.8 8.8H5.2V9.8H3.8Z" fill="#808486"/></svg><div class="abs" style="left:287px;top:5px;width:12px;height:13px;background:#64b5fb;border-radius:2px"><svg style="left:3px;top:4.2px" width="6.2" height="5" viewBox="0 0 8 7"><path d="M.8 3.6 3 5.8 7.2 1" fill="none" stroke="#fff" stroke-width="1.7"/></svg></div></div>
<div class="th" style="left:11px;top:792px;width:936px;height:22px"></div>
<div class="hl" style="left:11px;top:792px;width:936px"></div>
<div class="hl" style="left:11px;top:813px;width:936px;height:4px"></div>
<div class="hl" style="left:11px;top:849px;width:936px"></div>
<div class="vl" style="left:11px;top:792px;height:58px"></div>
<div class="vl" style="left:946px;top:792px;height:58px"></div>
<div class="vl" style="left:51px;top:792px;height:22px"></div>
<div class="vl" style="left:67px;top:792px;height:22px"></div>
<div class="vl" style="left:187px;top:792px;height:22px"></div>
<div class="vl" style="left:605px;top:792px;height:22px"></div>
<div class="vl" style="left:665px;top:792px;height:22px"></div>
<div class="vl" style="left:725px;top:792px;height:22px"></div>
<div class="vl" style="left:805px;top:792px;height:22px"></div>
<div class="vl" style="left:877px;top:792px;height:22px"></div>
<div class="t thd" style="left:73px;top:796.2px">Type</div>
<div class="t thd" style="left:192.5px;top:796.2px">Description</div>
<div class="t thd" style="left:610.5px;top:796.2px">Quantity</div>
<div class="t thd" style="left:670.5px;top:796.2px">Rate</div>
<div class="t thd" style="left:731px;top:796.2px">Revenue</div>
<div class="t thd" style="left:810px;top:796.2px">Adj Revenue</div>
<div class="t thd" style="left:888.5px;top:796.2px">Use for pay</div>
<div class="t b" style="left:731px;top:826px;font-size:10.5px;letter-spacing:-.45px;color:#111">$0.00</div>
<div class="t b" style="left:810px;top:826px;font-size:10.5px;letter-spacing:-.45px;color:#111">$0.00</div>
<div class="t" style="left:11px;top:853px;letter-spacing:-.25px">Billing notes</div>
<div class="ta" style="left:11px;top:869px;width:936px;height:32px"></div>
<div class="t" style="left:11px;top:906px;letter-spacing:-.25px">Invoice notes</div>
<div class="ta" style="left:11px;top:922px;width:936px;height:32px"><div class="t" style="left:4px;top:2px;letter-spacing:-.29px">Invoice Notes for the Customer Amazon will be shown here.</div></div>
</body>
</html>
